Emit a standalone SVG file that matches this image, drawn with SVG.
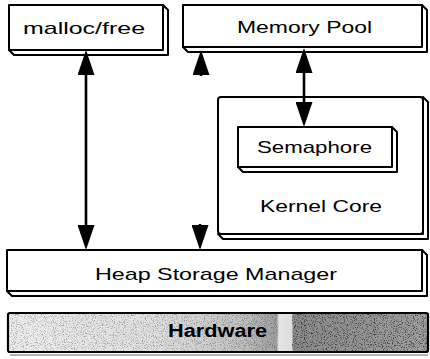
<svg xmlns="http://www.w3.org/2000/svg" width="430" height="359" viewBox="0 0 430 359">
<style>
.box{fill:#fff;stroke:#000;stroke-width:2;stroke-linejoin:round}
.lbl{font-family:"Liberation Sans",Arial,sans-serif;font-size:17px;fill:#000;text-anchor:start}
.conn{stroke:#000;stroke-width:2.6;fill:none}
</style>
<defs>
<marker id="ah" markerUnits="userSpaceOnUse" markerWidth="25" markerHeight="17" viewBox="0 0 25 17" refX="0" refY="8.5" orient="auto-start-reverse">
<path d="M0,0 L25,8.5 L0,17 z" fill="#000"/>
</marker>
<linearGradient id="hwg" x1="0" y1="0" x2="1" y2="0">
<stop offset="0" stop-color="#eeeeee"/>
<stop offset="0.35" stop-color="#e0e0e0"/>
<stop offset="0.55" stop-color="#c4c4c4"/>
<stop offset="0.64" stop-color="#a0a0a0"/>
<stop offset="0.645" stop-color="#e6e6e6"/>
<stop offset="0.675" stop-color="#dcdcdc"/>
<stop offset="0.68" stop-color="#8c8c8c"/>
<stop offset="1" stop-color="#a0a0a0"/>
</linearGradient>
<filter id="speckle" x="0" y="0" width="100%" height="100%">
<feTurbulence type="fractalNoise" baseFrequency="0.9" numOctaves="2" seed="4" result="n"/>
<feColorMatrix in="n" type="matrix" values="0 0 0 0 0  0 0 0 0 0  0 0 0 0 0  4 0 0 0 -2" result="dots"/>
<feComposite in="dots" in2="SourceGraphic" operator="in"/>
</filter>
</defs>

<g id="malloc-free">
<rect class="box" x="9" y="5" width="154" height="45"/>
<path class="box" d="M9,50 L14,55 L168,55 L168,10 L163,5 L163,50 Z"/>
<text class="lbl" x="23" y="34" textLength="122" lengthAdjust="spacingAndGlyphs">malloc/free</text>
</g>

<g id="memory-pool">
<rect class="box" x="183" y="5" width="239" height="42"/>
<path class="box" d="M183,47 L188,52 L427,52 L427,10 L422,5 L422,47 Z"/>
<text class="lbl" x="237" y="33" textLength="135" lengthAdjust="spacingAndGlyphs">Memory Pool</text>
</g>

<g id="kernel-core">
<rect class="box" x="218" y="97" width="205" height="137" rx="3"/>
<path class="box" d="M218,234 L223,239 L428,239 L428,102 L423,97 L423,234 Z"/>
<text class="lbl" x="260" y="212" textLength="122" lengthAdjust="spacingAndGlyphs">Kernel Core</text>
</g>

<g id="semaphore">
<rect class="box" x="238" y="127" width="154" height="40"/>
<path class="box" d="M238,167 L243,172 L397,172 L397,132 L392,127 L392,167 Z"/>
<text class="lbl" x="257" y="153" textLength="115" lengthAdjust="spacingAndGlyphs">Semaphore</text>
</g>

<g id="heap-storage-manager">
<rect class="box" x="7" y="250" width="415" height="41"/>
<path class="box" d="M7,291 L12,296 L427,296 L427,255 L422,250 L422,291 Z"/>
<text class="lbl" x="95" y="280" textLength="242" lengthAdjust="spacingAndGlyphs">Heap Storage Manager</text>
</g>

<g id="hardware">
<rect x="8" y="313" width="420" height="39" fill="url(#hwg)"/>
<rect x="8" y="313" width="270" height="39" fill="#000" filter="url(#speckle)" opacity="0.3"/>
<rect x="292" y="313" width="136" height="39" fill="#000" filter="url(#speckle)" opacity="0.6"/>
<rect x="8" y="313" width="420" height="39" fill="none" stroke="#000" stroke-width="2.2" rx="2"/>
<line x1="10" y1="355" x2="428" y2="355" stroke="#666" stroke-width="1"/>
<text class="lbl" x="168" y="337" textLength="99" lengthAdjust="spacingAndGlyphs" font-weight="bold" style="font-size:18px">Hardware</text>
</g>

<g id="connectors">
<path class="conn" d="M86,75 L86,225" marker-start="url(#ah)" marker-end="url(#ah)"/>
<path class="conn" d="M304,73 L304,102" marker-start="url(#ah)" marker-end="url(#ah)"/>
<path class="conn" d="M201,76 L201,75" marker-end="url(#ah)"/>
<path class="conn" d="M200,224 L200,225" marker-end="url(#ah)"/>
</g>
</svg>
